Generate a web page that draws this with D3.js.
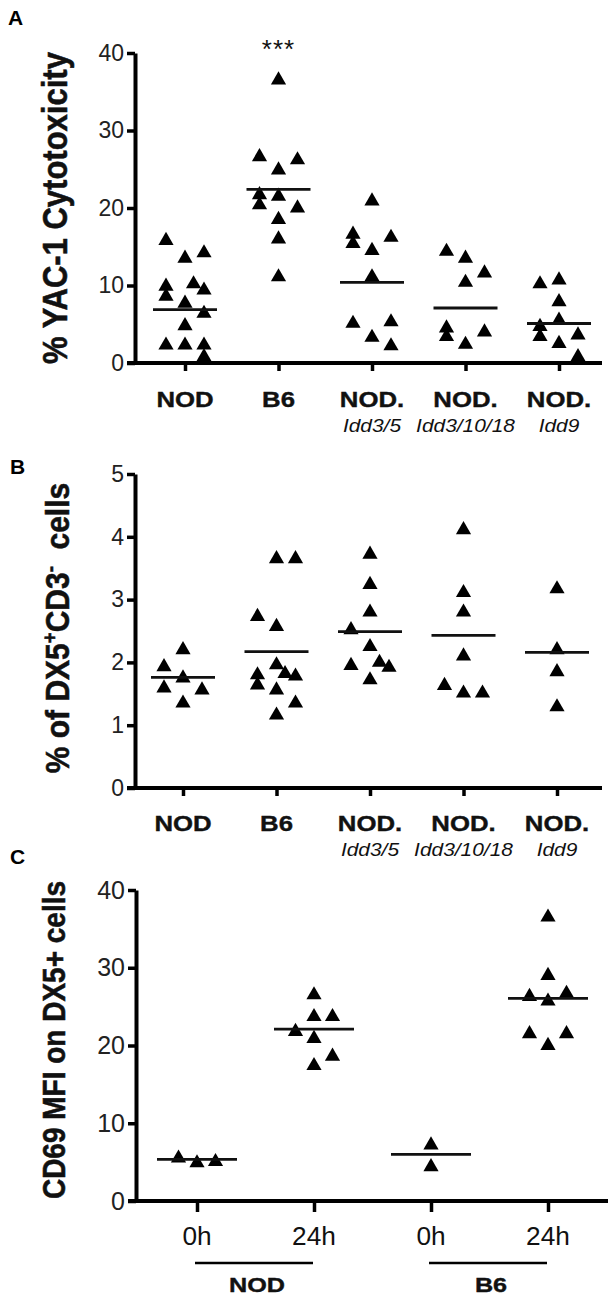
<!DOCTYPE html>
<html>
<head>
<meta charset="utf-8">
<script src="https://cdn.jsdelivr.net/npm/d3@7"></script>
<style>
  body { margin: 0; background: #fff; }
  svg { display: block; font-family: "Liberation Sans", Arial, sans-serif; }
</style>
</head>
<body>
<svg id="fig" width="612" height="1302"></svg>
<script>
// ---- data ----
const abGroups = ["NOD", "B6", "NOD.", "NOD.", "NOD."];
const abSubLabels = ["", "", "Idd3/5", "Idd3/10/18", "Idd9"];

// panel A: % YAC-1 cytotoxicity, one array per strain
const cytoValues = [
  [15.8, 13.5, 14.2, 9.9, 8.6, 10.2, 7.7, 9.4, 6.4, 4.8, 2.3, 2.3, 2.3, 0.8],
  [36.5, 26.6, 26.2, 24.9, 21.7, 20.4, 21.5, 20.0, 18.5, 16.0, 11.1],
  [20.9, 16.6, 15.4, 16.2, 14.5, 11.1, 5.1, 5.3, 3.3, 2.2],
  [14.4, 13.5, 11.6, 10.4, 4.5, 3.4, 4.0, 2.4],
  [10.2, 10.7, 7.9, 5.5, 4.7, 3.4, 3.6, 2.5, 0.8]
];
// dot-plot column of each point (-1 left, 0 centre, 1 right)
const cytoColumns = [
  [-1, 0, 1, -1, -1, 0.45, 0, 1, 1, 0, -1, 0, 1, 1],
  [0, -1, 1, 0, -1, -1, 0, 1, 0, 0, 0],
  [0, -1, -1, 1, 0, 0, -1, 1, 0, 1],
  [-1, 0, 1, 0, -1, -1, 1, 0],
  [-1, 0, 0, 0, -1, -1, 1, 0, 1]
];
const cytoMeans = [6.9, 22.4, 10.4, 7.1, 5.1];
const cytoTicks = [0, 10, 20, 30, 40];

// panel B: % of DX5+CD3- cells
const nkValues = [
  [2.20, 1.93, 1.75, 1.59, 1.56, 1.35],
  [3.65, 3.65, 2.73, 2.57, 1.96, 1.80, 1.64, 1.82, 1.78, 1.56, 1.35, 1.16],
  [3.72, 3.24, 2.80, 2.52, 2.25, 1.95, 2.00, 1.92, 1.72],
  [4.11, 3.11, 2.80, 2.10, 1.63, 1.51, 1.51],
  [3.17, 2.20, 1.85, 1.29]
];
const nkColumns = [
  [0, -1, 0, -1, 1, 0],
  [0, 1, -1, 0, 0, -1, -1, 0.45, 1, 0, 1, 0],
  [0, 0, 0, -1, 0, -1, 0.5, 1, 0],
  [0, 0, 0, 0, -1, 0, 1],
  [0, 0, 0, 0]
];
const nkMeans = [1.76, 2.17, 2.49, 2.43, 2.16];
const nkTicks = [0, 1, 2, 3, 4, 5];

// panel C: CD69 MFI on DX5+ cells
const cdGroups = ["0h", "24h", "0h", "24h"];
const cdStrains = ["NOD", "B6"];
const cdValues = [
  [5.5, 4.9, 5.05],
  [26.5, 23.7, 23.7, 21.8, 20.9, 18.6, 17.4],
  [7.2, 4.4],
  [36.5, 29.0, 26.3, 26.7, 25.7, 21.5, 21.5, 20.0]
];
const cdColumns = [
  [-1, 0, 1],
  [0, 0, 1, -1, 0, 1, 0],
  [0, 0],
  [0, 0, -1, 1, 0, -1, 1, 0]
];
const cdMeans = [5.36, 22.1, 6.0, 26.05];
const cdTicks = [0, 10, 20, 30, 40];

// ---- drawing ----
const svg = d3.select("#fig");
const tri = d3.symbol().type(d3.symbolTriangle).size(100);

// text a bit wider than the font, like the scanned figure
function stretchedText(g, x, y, str, size, weight, sx) {
  const t = g.append("text")
    .attr("transform", `translate(${x},${y}) scale(${sx},1)`)
    .attr("text-anchor", "middle")
    .attr("font-size", size)
    .attr("font-weight", weight)
    .attr("fill", "#111")
    .text(str);
  if (weight === "bold") t.attr("stroke", "#111").attr("stroke-width", 0.4);
  return t;
}

function drawPanel(opts) {
  const g = svg.append("g");
  const y = d3.scaleLinear().domain(opts.domain).range([opts.bottom, opts.top]);
  const x = d3.scalePoint().domain(d3.range(opts.values.length)).range(opts.xRange);

  // y axis
  const yAxis = g.append("g")
    .attr("transform", `translate(${opts.axisX},0)`)
    .call(d3.axisLeft(y).tickValues(opts.ticks).tickFormat(d3.format("d"))
      .tickSize(8).tickSizeOuter(0).tickPadding(3));
  yAxis.select(".domain").attr("stroke", "#000").attr("stroke-width", 4);
  yAxis.selectAll(".tick line").attr("stroke", "#000").attr("stroke-width", 3.5);
  yAxis.selectAll(".tick text")
    .attr("font-size", opts.tickFont)
    .attr("fill", "#222")
    .attr("font-family", "Liberation Sans, Arial, sans-serif");

  // x axis line + ticks
  g.append("line")
    .attr("x1", opts.axisX - 8).attr("x2", opts.axisEnd)
    .attr("y1", opts.bottom).attr("y2", opts.bottom)
    .attr("stroke", "#000").attr("stroke-width", 4);
  const xAxis = g.append("g")
    .attr("transform", `translate(0,${opts.bottom})`)
    .call(d3.axisBottom(x).tickSize(opts.xTickLen).tickSizeOuter(0).tickFormat(""));
  xAxis.select(".domain").remove();
  xAxis.selectAll(".tick line").attr("stroke", "#000").attr("stroke-width", 3.5);

  // points
  opts.values.forEach((vals, i) => {
    g.append("g").selectAll("path")
      .data(vals.map((v, j) => ({ v, c: opts.columns[i][j] })))
      .join("path")
      .attr("d", tri)
      .attr("transform", d => `translate(${x(i) + d.c * opts.colStep},${y(d.v)})`)
      .attr("fill", "#000");
  });

  // mean lines
  g.append("g").selectAll("line")
    .data(opts.means)
    .join("line")
    .attr("x1", (d, i) => x(i) - opts.meanHalf)
    .attr("x2", (d, i) => x(i) + opts.meanHalf)
    .attr("y1", d => y(d)).attr("y2", d => y(d))
    .attr("stroke", "#111").attr("stroke-width", 2.8);

  // y label
  const lab = g.append("text")
    .attr("transform", `translate(${opts.labelX},${opts.labelY}) scale(1.12,1) rotate(-90)`)
    .attr("text-anchor", "middle")
    .attr("font-size", opts.labelFont)
    .attr("font-weight", "bold")
    .attr("fill", "#111")
    .attr("stroke", "#111").attr("stroke-width", 0.5);
  opts.label.forEach(part => {
    const t = lab.append("tspan").text(part.t);
    if (part.sup) t.attr("baseline-shift", "super").attr("font-size", opts.labelFont * 0.62);
  });

  // panel letter
  g.append("text")
    .attr("x", opts.letterX).attr("y", opts.letterY)
    .attr("font-size", 21).attr("font-weight", "bold").attr("fill", "#000")
    .text(opts.letter);

  return { g, x, y };
}

// Panel A
const pA = drawPanel({
  letter: "A", letterX: 8, letterY: 25,
  values: cytoValues, columns: cytoColumns, means: cytoMeans, ticks: cytoTicks,
  domain: [0, 40], top: 53, bottom: 363, axisX: 135, axisEnd: 602,
  xRange: [185, 559], colStep: 19, meanHalf: 32, xTickLen: 8, tickFont: 23,
  label: [{ t: "% YAC-1 Cytotoxicity" }], labelFont: 31, labelX: 67, labelY: 208
});
abGroups.forEach((s, i) => {
  stretchedText(pA.g, pA.x(i), 407, s, 23, "bold", 1.12);
  if (abSubLabels[i]) stretchedText(pA.g, pA.x(i), 432, abSubLabels[i], 19, "normal", 1.1).attr("font-style", "italic");
});
pA.g.append("text")
  .attr("x", pA.x(1)).attr("y", 58)
  .attr("text-anchor", "middle").attr("font-size", 26).attr("letter-spacing", 1).attr("fill", "#111")
  .text("***");

// Panel B
const pB = drawPanel({
  letter: "B", letterX: 10, letterY: 474,
  values: nkValues, columns: nkColumns, means: nkMeans, ticks: nkTicks,
  domain: [0, 5], top: 474, bottom: 788, axisX: 135, axisEnd: 602,
  xRange: [183, 557], colStep: 19, meanHalf: 32, xTickLen: 8, tickFont: 23,
  label: [{ t: "% of DX5" }, { t: "+", sup: true }, { t: "CD3" }, { t: "-", sup: true }, { t: "\u00a0 cells" }],
  labelFont: 30, labelX: 69, labelY: 628
});
abGroups.forEach((s, i) => {
  stretchedText(pB.g, pB.x(i), 831, s, 23, "bold", 1.12);
  if (abSubLabels[i]) stretchedText(pB.g, pB.x(i), 856, abSubLabels[i], 19, "normal", 1.1).attr("font-style", "italic");
});

// Panel C
const pC = drawPanel({
  letter: "C", letterX: 10, letterY: 864,
  values: cdValues, columns: cdColumns, means: cdMeans, ticks: cdTicks,
  domain: [0, 40], top: 890, bottom: 1201, axisX: 136, axisEnd: 608,
  xRange: [197, 548], colStep: 18.5, meanHalf: 40, xTickLen: 11, tickFont: 25,
  label: [{ t: "CD69 MFI on DX5+ cells" }], labelFont: 28, labelX: 65, labelY: 1040
});
cdGroups.forEach((s, i) => {
  stretchedText(pC.g, pC.x(i), 1245, s, 25, "normal", 1.05);
});
cdStrains.forEach((s, k) => {
  const x0 = pC.x(k * 2) - 2, x1 = pC.x(k * 2 + 1) - 1;
  pC.g.append("line")
    .attr("x1", x0).attr("x2", x1).attr("y1", 1263).attr("y2", 1263)
    .attr("stroke", "#000").attr("stroke-width", 2.5);
  stretchedText(pC.g, (x0 + x1) / 2 + 3, 1292, s, 21, "bold", 1.2);
});
</script>
</body>
</html>
